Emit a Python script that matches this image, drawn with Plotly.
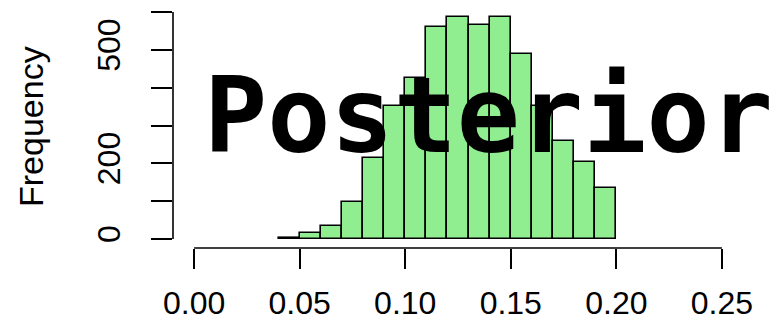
import plotly.graph_objects as go

bin_left = [0.04, 0.05, 0.06, 0.07, 0.08, 0.09, 0.10, 0.11, 0.12, 0.13, 0.14, 0.15, 0.16, 0.17, 0.18, 0.19]
counts = [2, 15, 35, 97, 213, 352, 425, 561, 588, 567, 588, 490, 352, 260, 203, 134]
bin_width = 0.01
x_ticks = [0.00, 0.05, 0.10, 0.15, 0.20, 0.25]
x_ticklabels = ["0.00", "0.05", "0.10", "0.15", "0.20", "0.25"]
y_ticks = [0, 100, 200, 300, 400, 500, 600]
y_ticklabels = ["0", "", "200", "", "", "500", ""]

centers = [b + bin_width / 2 for b in bin_left]

fig = go.Figure()
fig.add_trace(go.Bar(
    x=centers, y=counts, width=[bin_width] * len(counts),
    marker=dict(color="#90EE90", line=dict(color="black", width=1.6)),
    showlegend=False, hoverinfo="skip",
))

tickfont = dict(family="Liberation Sans, Arial, sans-serif", size=32, color="black")

fig.update_layout(
    width=780, height=326,
    margin=dict(l=173, r=37, t=3, b=78),
    plot_bgcolor="white", paper_bgcolor="white",
    bargap=0,
    xaxis=dict(range=[-0.01, 0.26], tickvals=x_ticks, ticktext=x_ticklabels,
               ticks="outside", ticklen=20, tickwidth=1.6, tickcolor="black",
               showline=False, showgrid=False, zeroline=False,
               ticklabelstandoff=7, tickfont=tickfont),
    yaxis=dict(range=[-24, 624], tickvals=y_ticks, ticktext=y_ticklabels,
               ticks="outside", ticklen=21, tickwidth=1.6, tickcolor="black",
               showline=False, showgrid=False, zeroline=False,
               ticklabelstandoff=18, tickangle=-90, tickfont=tickfont),
    shapes=[
        dict(type="line", xref="x", yref="paper", x0=x_ticks[0], x1=x_ticks[-1], y0=0, y1=0,
             line=dict(color="black", width=1.6)),
        dict(type="line", xref="paper", yref="y", x0=0, x1=0, y0=y_ticks[0], y1=y_ticks[-1],
             line=dict(color="black", width=1.6)),
    ],
    annotations=[
        dict(text="Frequency", xref="paper", yref="paper", x=(31 - 173) / 570, y=(248 - 127) / 245,
             xanchor="center", yanchor="middle", textangle=-90, showarrow=False,
             font=dict(family="Liberation Sans, Arial, sans-serif", size=34, color="black")),
        dict(text="<b>Posterior</b>", xref="paper", yref="paper", x=(488 - 173) / 570, y=(248 - 116) / 245,
             xanchor="center", yanchor="middle", showarrow=False,
             font=dict(family="DejaVu Sans Mono", size=105, color="black")),
    ],
)

fig.write_html("out.html")
